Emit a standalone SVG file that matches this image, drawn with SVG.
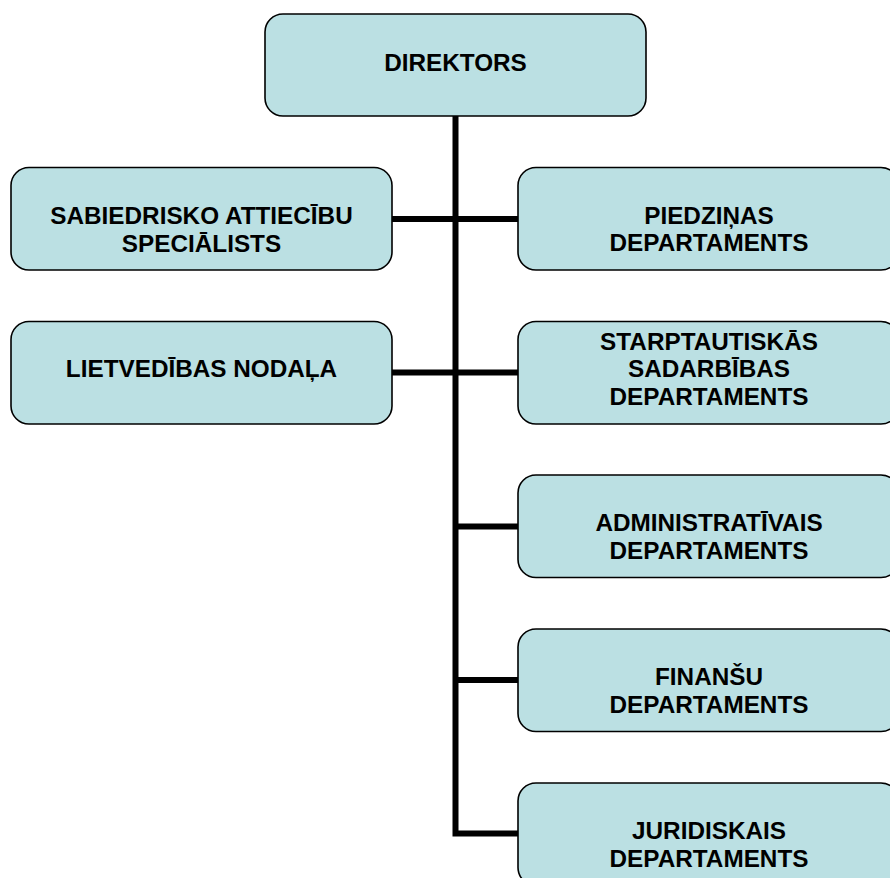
<svg xmlns="http://www.w3.org/2000/svg" width="890" height="878" viewBox="0 0 890 878">
<style>
.box{fill:#BBE0E3;stroke:#000;stroke-width:1.6}
.t{font-family:"Liberation Sans",Arial,sans-serif;font-weight:bold;font-size:24.3px;fill:#000;text-anchor:middle}
.c{stroke:#000;stroke-width:6;fill:none;stroke-linejoin:miter}
</style>
<rect width="890" height="878" fill="#fff"/>
<g id="connectors">
<path class="c" d="M455.5,116 V833.5 H518"/>
<path class="c" d="M392,219 H518"/>
<path class="c" d="M392,372.5 H518"/>
<path class="c" d="M455.5,526.5 H518"/>
<path class="c" d="M455.5,680 H518"/>
</g>
<g id="direktors">
<rect class="box" x="265" y="14" width="381" height="102" rx="18"/>
<text class="t" x="455.5" y="70.7">DIREKTORS</text>
</g>
<g id="sabiedrisko">
<rect class="box" x="11" y="167.5" width="381" height="102.5" rx="18"/>
<text class="t" x="201.5" y="224">SABIEDRISKO ATTIECĪBU</text>
<text class="t" x="201.5" y="251.5">SPECIĀLISTS</text>
</g>
<g id="lietvedibas">
<rect class="box" x="11" y="321.5" width="381" height="102.5" rx="18"/>
<text class="t" x="201.5" y="376.7">LIETVEDĪBAS NODAĻA</text>
</g>
<g id="piedzinas">
<rect class="box" x="518" y="167.5" width="381" height="102.5" rx="18"/>
<text class="t" x="709" y="224">PIEDZIŅAS</text>
<text class="t" x="709" y="251">DEPARTAMENTS</text>
</g>
<g id="starptautiskas">
<rect class="box" x="518" y="321.5" width="381" height="102.5" rx="18"/>
<text class="t" x="709" y="350">STARPTAUTISKĀS</text>
<text class="t" x="709" y="377.3">SADARBĪBAS</text>
<text class="t" x="709" y="405">DEPARTAMENTS</text>
</g>
<g id="administrativais">
<rect class="box" x="518" y="475" width="381" height="102.5" rx="18"/>
<text class="t" x="709" y="531">ADMINISTRATĪVAIS</text>
<text class="t" x="709" y="559">DEPARTAMENTS</text>
</g>
<g id="finansu">
<rect class="box" x="518" y="629" width="381" height="102.5" rx="18"/>
<text class="t" x="709" y="685.3">FINANŠU</text>
<text class="t" x="709" y="712.5">DEPARTAMENTS</text>
</g>
<g id="juridiskais">
<rect class="box" x="518" y="783" width="381" height="102.5" rx="18"/>
<text class="t" x="709" y="839.3">JURIDISKAIS</text>
<text class="t" x="709" y="866.7">DEPARTAMENTS</text>
</g>
</svg>
